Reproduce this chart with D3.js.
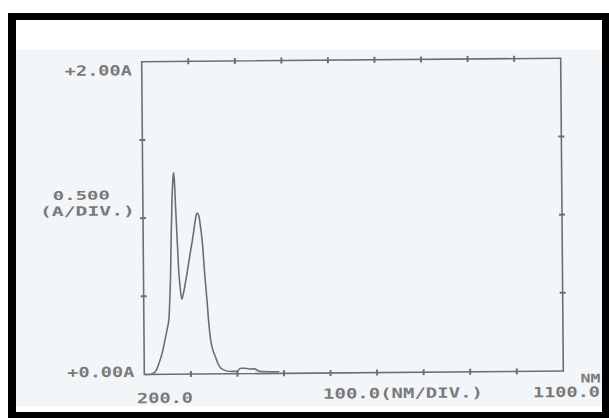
<!DOCTYPE html>
<html><head><meta charset="utf-8">
<script src="https://cdn.jsdelivr.net/npm/d3@7"></script>
<style>html,body{margin:0;padding:0;background:#fff;overflow:hidden}</style>
</head><body><svg id="c" width="609" height="418"></svg>
<script>
// Spectrum (wavelength in nm, absorbance in A)
const wavelength = [200, 212, 223, 234, 240, 245, 250, 254, 256, 258, 260, 262.5, 265, 266.5, 268, 270, 273, 276, 279, 282, 285, 289, 295, 300, 307, 312, 316, 320, 323, 327, 332, 336, 339, 343, 348, 353, 358.5, 367, 385, 400, 404, 408, 415, 425, 436, 447, 490];
const absorbance = [0, 0, 0.014, 0.09, 0.15, 0.22, 0.29, 0.36, 0.47, 0.62, 0.86, 1.11, 1.25, 1.29, 1.24, 1.08, 0.86, 0.65, 0.54, 0.48, 0.51, 0.57, 0.67, 0.76, 0.88, 0.98, 1.03, 1.01, 0.95, 0.84, 0.62, 0.47, 0.34, 0.22, 0.15, 0.11, 0.065, 0.03, 0.015, 0.015, 0.03, 0.035, 0.035, 0.03, 0.03, 0.015, 0.01];
const xTicks = [200, 300, 400, 500, 600, 700, 800, 900, 1000, 1100];
const yTicks = [0, 0.5, 1.0, 1.5, 2.0];
const yTopLabel = "+2.00A";
const yBottomLabel = "+0.00A";
const yDivLabel = ["0.500", "(A/DIV.)"];
const xLeftLabel = "200.0";
const xDivLabel = "100.0(NM/DIV.)";
const xRightLabel = "1100.0";
const xUnitLabel = "NM";

const svg = d3.select("#c");
svg.append("rect").attr("width", 609).attr("height", 418).attr("fill", "#fff");
svg.append("rect").attr("x", 8).attr("y", 13).attr("width", 601).attr("height", 405).attr("fill", "#000");
svg.append("rect").attr("x", 16).attr("y", 20).attr("width", 586).attr("height", 392).attr("fill", "#fff");
svg.append("rect").attr("x", 16).attr("y", 50).attr("width", 586).attr("height", 356).attr("fill", "#f3f6f9");

const g = svg.append("g").attr("transform", "rotate(-0.48 352 216)");
const x = d3.scaleLinear().domain([200, 1100]).range([143, 562]);
const y = d3.scaleLinear().domain([0, 2]).range([372.75, 60]);
const ink = "#6e6e6e";

// frame
g.append("rect")
  .attr("x", x(200)).attr("y", y(2))
  .attr("width", x(1100) - x(200)).attr("height", y(0) - y(2))
  .attr("fill", "none").attr("stroke", ink).attr("stroke-width", 1.6);

const innerX = xTicks.slice(1, -1), innerY = yTicks.slice(1, -1);
[0, 2].forEach(v => {
  g.selectAll(null).data(innerX).join("line")
    .attr("x1", d => x(d)).attr("x2", d => x(d))
    .attr("y1", y(v) - 3).attr("y2", y(v) + 3)
    .attr("stroke", ink).attr("stroke-width", 2);
});
[200, 1100].forEach(v => {
  g.selectAll(null).data(innerY).join("line")
    .attr("y1", d => y(d)).attr("y2", d => y(d))
    .attr("x1", x(v) - 3).attr("x2", x(v) + 3)
    .attr("stroke", ink).attr("stroke-width", 2);
});

// curve
const pts = wavelength.map((w, i) => [w, absorbance[i]]);
g.append("path").datum(pts)
  .attr("d", d3.line().x(d => x(d[0])).y(d => y(d[1])).curve(d3.curveMonotoneX))
  .attr("fill", "none").attr("stroke", ink).attr("stroke-width", 1.6)
  .attr("stroke-linejoin", "round");

// labels
function label(txt, px, py, anchor, len, size) {
  g.append("text").text(txt)
    .attr("x", px).attr("y", py)
    .attr("text-anchor", anchor)
    .attr("textLength", len).attr("lengthAdjust", "spacingAndGlyphs")
    .attr("font-family", "DejaVu Sans Mono, monospace")
    .attr("font-weight", "bold")
    .attr("font-size", size)
    .attr("fill", "#7a7a7a");
}
label(yTopLabel, 133, 73.5, "end", 67, 14);
label(yBottomLabel, 133, 375, "end", 67, 14);
label(yDivLabel[0], 53, 197.5, "start", 57, 12);
label(yDivLabel[1], 40, 213.5, "start", 95, 13);
label(xLeftLabel, 163.5, 401.4, "middle", 56, 14);
label(xDivLabel, 401.5, 398.4, "middle", 160, 14);
label(xRightLabel, 565, 398.8, "middle", 67, 14);
label(xUnitLabel, 589, 384.5, "middle", 20, 12);
</script>
</body></html>
